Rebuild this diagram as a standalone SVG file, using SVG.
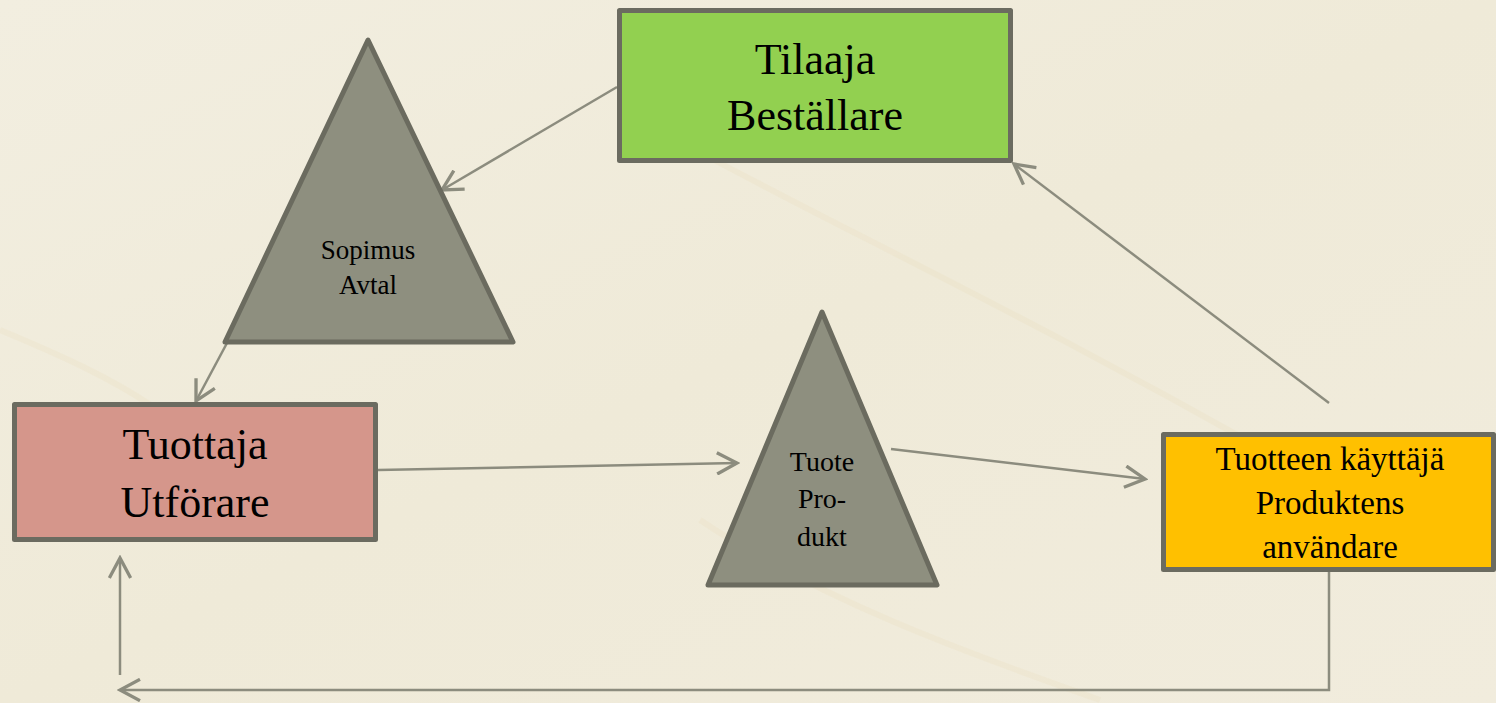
<svg xmlns="http://www.w3.org/2000/svg" width="1496" height="703" viewBox="0 0 1496 703">
<style>
.box{stroke:#6B6B60;stroke-width:5;stroke-linejoin:round}
.tri{fill:#8E8F7F;stroke:#6B6B5F;stroke-width:5;stroke-linejoin:round}
.conn{fill:none;stroke:#8C8C7E;stroke-width:2.5;marker-end:url(#arr)}
text{font-family:"Liberation Serif","DejaVu Serif",serif;fill:#000;text-anchor:middle}
.big{font-size:44px}
.mid{font-size:33px}
.sm{font-size:27px}
.tri-t{font-size:28px}
</style>
<defs>
<marker id="arr" markerUnits="userSpaceOnUse" markerWidth="24" markerHeight="24" refX="16" refY="9" orient="auto" viewBox="0 0 18 18">
<path d="M1,1 L16,9 L1,17" fill="none" stroke="#8C8C7E" stroke-width="2.5"/>
</marker>
<linearGradient id="bg" x1="0" y1="0" x2="1" y2="1">
<stop offset="0" stop-color="#F2EEE0"/>
<stop offset="0.5" stop-color="#EFEAD8"/>
<stop offset="1" stop-color="#F1ECDD"/>
</linearGradient>
</defs>
<rect x="0" y="0" width="1496" height="703" fill="url(#bg)"/>
<g opacity="0.18" fill="none" stroke="#E8D9B0" stroke-width="6">
<path d="M0,330 C120,380 200,420 260,520"/>
<path d="M640,120 C820,220 1000,300 1300,470"/>
<path d="M700,520 C820,600 960,650 1100,700"/>
</g>
<g id="connectors">
<path class="conn" d="M617,87 L442,190"/>
<path class="conn" d="M227,343 L196,401"/>
<path class="conn" d="M378,470 L737,463"/>
<path class="conn" d="M891,449 L1145,479"/>
<path class="conn" d="M1329,403 L1014,164"/>
<path class="conn" d="M1329,572 L1329,690 L120,690"/>
<path class="conn" d="M120,675 L120,558"/>
</g>
<g id="tilaaja">
<rect class="box" x="619.5" y="10.5" width="391" height="150" fill="#92D050"/>
<text class="big" x="815" y="74">Tilaaja</text>
<text class="big" x="815" y="130">Beställare</text>
</g>
<g id="sopimus">
<polygon class="tri" points="368,40 513,342 225,342"/>
<text class="sm" x="368" y="259">Sopimus</text>
<text class="sm" x="368" y="294">Avtal</text>
</g>
<g id="tuottaja">
<rect class="box" x="14.5" y="404.5" width="361" height="135" fill="#D5968B"/>
<text class="big" x="195" y="459">Tuottaja</text>
<text class="big" x="195" y="517">Utförare</text>
</g>
<g id="tuote">
<polygon class="tri" points="822,312 937,585 708,585"/>
<text class="tri-t" x="822" y="471">Tuote</text>
<text class="tri-t" x="822" y="508">Pro-</text>
<text class="tri-t" x="822" y="546">dukt</text>
</g>
<g id="kayttaja">
<rect class="box" x="1163.5" y="434.5" width="330" height="135" fill="#FFC000"/>
<text class="mid" x="1330" y="470">Tuotteen käyttäjä</text>
<text class="mid" x="1330" y="514">Produktens</text>
<text class="mid" x="1330" y="558">användare</text>
</g>
</svg>
